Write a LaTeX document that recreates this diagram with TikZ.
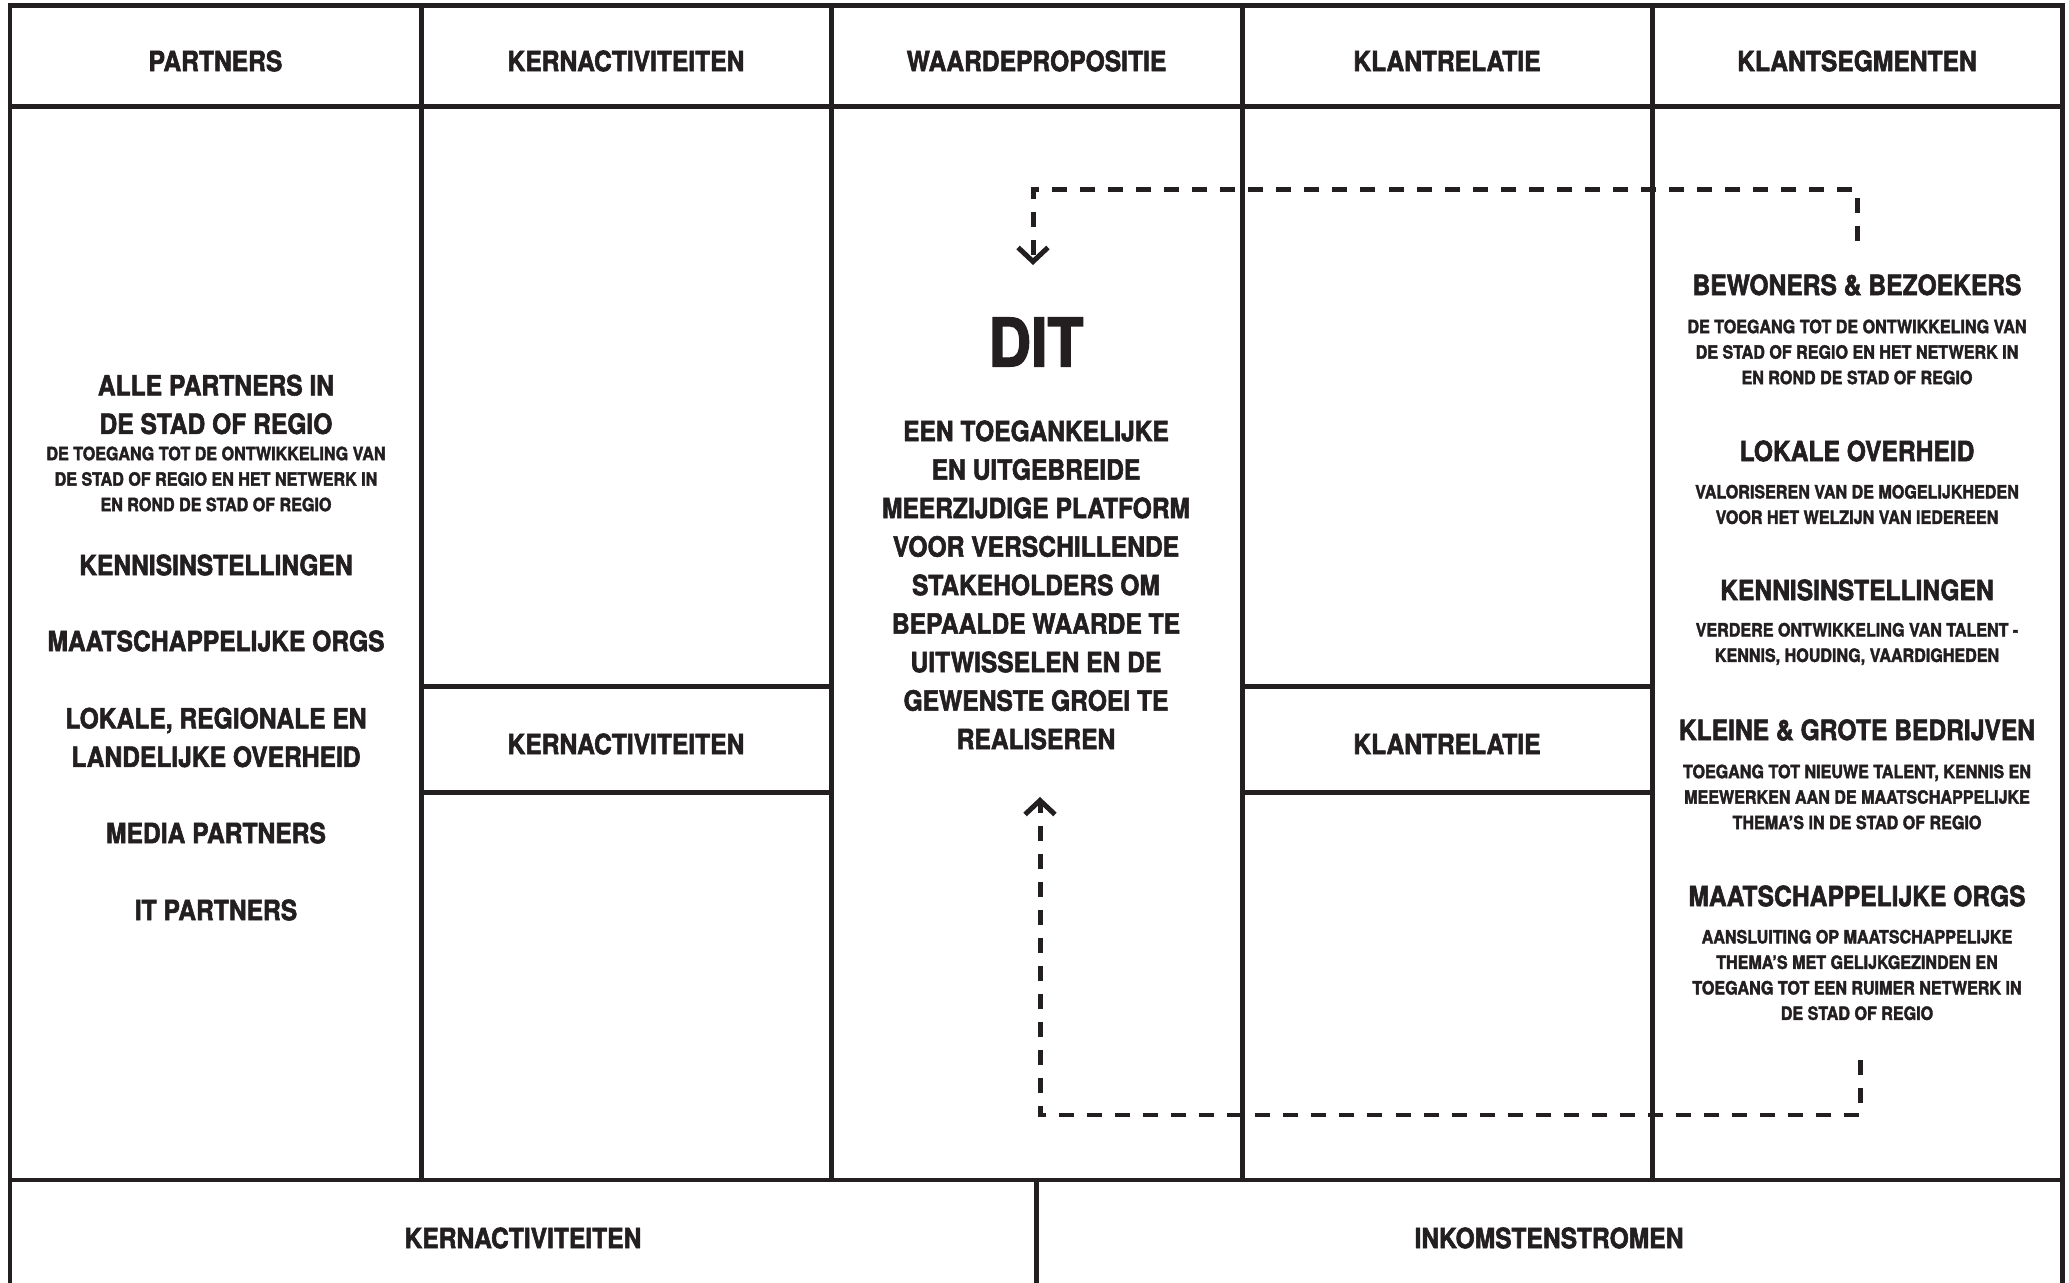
\documentclass[tikz,border=0pt]{standalone}
\usepackage{fontspec}
\newfontfamily\cfont{TeX Gyre Heros}[FakeStretch=0.88, BoldFeatures={FakeBold=2}]
\usetikzlibrary{arrows.meta}
\definecolor{ink}{RGB}{35,31,32}
\begin{document}
\begin{tikzpicture}[x=0.01cm, y=-0.01cm, line width=1.42pt, draw=ink, text=ink,
  every node/.style={inner sep=0pt, outer sep=0pt, align=center},
  hdr/.style={font=\cfont\bfseries\fontsize{7.95}{10.95}\selectfont},
  itm/.style={font=\cfont\bfseries\fontsize{7.95}{10.95}\selectfont},
  sml/.style={font=\cfont\bfseries\fontsize{5.2}{7.25}\selectfont},
  bigtitle/.style={font=\cfont\bfseries\fontsize{19}{20}\selectfont},
  dashline/.style={line width=1.42pt, dash pattern=on 4.27pt off 3.7pt, -{Straight Barb[length=4pt,width=8.5pt,line width=1.42pt]}}]
\useasboundingbox (0,0) rectangle (2069,1283);
\clip (0,0) rectangle (2069,1283);
\fill[white] (0,0) rectangle (2069,1283);

% frame and grid
\draw (10,1300) -- (10,6) -- (2062,6) -- (2062,1300);
\draw (10,107) -- (2062,107);
\draw (10,1180) -- (2062,1180);
\foreach \x in {421,831,1242,1652} \draw (\x,6) -- (\x,1180);
\draw (421,687) -- (831,687);
\draw (421,793) -- (831,793);
\draw (1242,687) -- (1652,687);
\draw (1242,793) -- (1652,793);
\draw (1036,1180) -- (1036,1300);

% headers
\node[hdr] (h1) at (215.5,61) {PARTNERS};
\node[hdr] (h2) at (626,61) {KERNACTIVITEITEN};
\node[hdr] (h3) at (1036.5,61) {WAARDEPROPOSITIE};
\node[hdr] (h4) at (1447,61) {KLANTRELATIE};
\node[hdr] (h5) at (1857,61) {KLANTSEGMENTEN};

% partners column
\node[itm] (p1) at (216,404.5) {ALLE PARTNERS IN\\DE STAD OF REGIO};
\node[sml] (p1d) at (216,479) {DE TOEGANG TOT DE ONTWIKKELING VAN\\DE STAD OF REGIO EN HET NETWERK IN\\EN ROND DE STAD OF REGIO};
\node[itm] (p2) at (216,565) {KENNISINSTELLINGEN};
\node[itm] (p3) at (216,641) {MAATSCHAPPELIJKE ORGS};
\node[itm] (p4) at (216,737.5) {LOKALE, REGIONALE EN\\LANDELIJKE OVERHEID};
\node[itm] (p5) at (216,833) {MEDIA PARTNERS};
\node[itm] (p6) at (216,910) {IT PARTNERS};

% sub boxes
\node[hdr] (k2) at (626,744) {KERNACTIVITEITEN};
\node[hdr] (r2) at (1447,744) {KLANTRELATIE};

% value proposition
\node[bigtitle] (dit) at (1036,342) {DIT};
\node[itm] (vp) at (1036,585) {EEN TOEGANKELIJKE\\EN UITGEBREIDE\\MEERZIJDIGE PLATFORM\\VOOR VERSCHILLENDE\\STAKEHOLDERS OM\\BEPAALDE WAARDE TE\\UITWISSELEN EN DE\\GEWENSTE GROEI TE\\REALISEREN};

% segments column
\node[itm] (s1) at (1857,285) {BEWONERS \& BEZOEKERS};
\node[sml] (s1d) at (1857,352) {DE TOEGANG TOT DE ONTWIKKELING VAN\\DE STAD OF REGIO EN HET NETWERK IN\\EN ROND DE STAD OF REGIO};
\node[itm] (s2) at (1857,451) {LOKALE OVERHEID};
\node[sml] (s2d) at (1857,504.5) {VALORISEREN VAN DE MOGELIJKHEDEN\\VOOR HET WELZIJN VAN IEDEREEN};
\node[itm] (s3) at (1857,590) {KENNISINSTELLINGEN};
\node[sml] (s3d) at (1857,644) {VERDERE ONTWIKKELING VAN TALENT -\\KENNIS, HOUDING, VAARDIGHEDEN};
\node[itm] (s4) at (1857,730) {KLEINE \& GROTE BEDRIJVEN};
\node[sml] (s4d) at (1857,797) {TOEGANG TOT NIEUWE TALENT, KENNIS EN\\MEEWERKEN AAN DE MAATSCHAPPELIJKE\\THEMA’S IN DE STAD OF REGIO};
\node[itm] (s5) at (1857,896) {MAATSCHAPPELIJKE ORGS};
\node[sml] (s5d) at (1857,975) {AANSLUITING OP MAATSCHAPPELIJKE\\THEMA’S MET GELIJKGEZINDEN EN\\TOEGANG TOT EEN RUIMER NETWERK IN\\DE STAD OF REGIO};

% bottom
\node[hdr] (b1) at (523,1238) {KERNACTIVITEITEN};
\node[hdr] (b2) at (1549,1238) {INKOMSTENSTROMEN};

% dashed connectors
\coordinate (t0) at (1857,241);
\coordinate (t1) at (1857,190);
\coordinate (t2) at (1033,190);
\coordinate (t3) at (1033,265);
\draw[dashline] (t0) -- (t1) -- (t2) -- (t3);
\coordinate (u0) at (1860,1060);
\coordinate (u1) at (1860,1115);
\coordinate (u2) at (1040,1115);
\coordinate (u3) at (1040,797);
\draw[dashline] (u0) -- (u1) -- (u2) -- (u3);
\end{tikzpicture}
\end{document}
